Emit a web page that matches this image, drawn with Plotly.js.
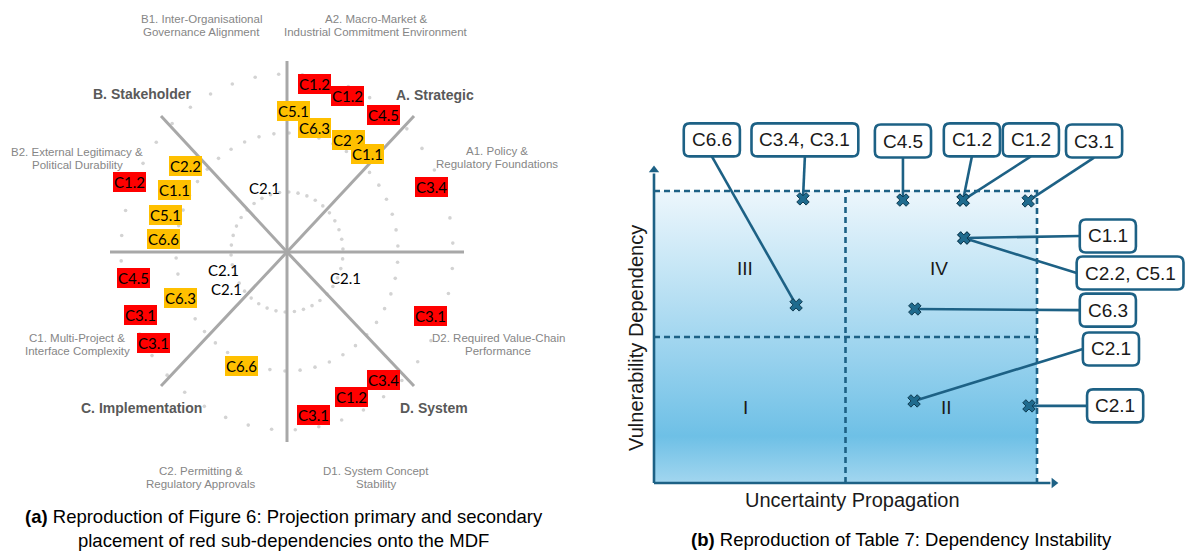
<!DOCTYPE html>
<html><head><meta charset="utf-8">
<script src="https://cdn.plot.ly/plotly-3.0.1.min.js"></script>
<style>html,body{margin:0;padding:0;background:#fff}#chart{width:1188px;height:552px}</style>
</head><body><div id="chart"></div>
<script>
// ================= DATA =================
// ---- Panel (a): MDF projection (diagram coordinates, hub = 0,0) ----
const primaryText = ['C1.2','C1.2','C4.5','C3.4','C1.2','C4.5','C3.1','C3.1','C3.1','C3.4','C1.2','C3.1'];
const primaryX    = [27, 60, 96, 144, -158, -154, -147, -134, 143, 96, 64, 26];
const primaryY    = [168, 156, 137, 65, 70, -26, -63, -91, -64, -128, -145, -163];

const secondaryText = ['C5.1','C6.3','C2.2','C1.1','C2.2','C1.1','C5.1','C6.6','C6.3','C6.6'];
const secondaryX    = [6, 27, 61, 80, -102, -113, -122, -124, -107, -46];
const secondaryY    = [141, 124, 112, 98, 86, 62, 37, 13, -46, -114];

const plainText = ['C2.1','C2.1','C2.1','C2.1'];
const plainX    = [-23, -64, -61, 58];
const plainY    = [64, -18, -37, -26];

const dimensionNames = ['A. Strategic','B. Stakeholder','C. Implementation','D. System'];
const dimensionX     = [148, -145, -146, 147];
const dimensionY     = [157, 158, -156, -156];

const subDimensionNames = [
  'A1. Policy &<br>Regulatory Foundations',
  'A2. Macro-Market &<br>Industrial Commitment Environment',
  'B1. Inter-Organisational<br>Governance Alignment',
  'B2. External Legitimacy &<br>Political Durability',
  'C1. Multi-Project &<br>Interface Complexity',
  'C2. Permitting &<br>Regulatory Approvals',
  'D1. System Concept<br>Stability',
  'D2. Required Value-Chain<br>Performance'
];
const subDimensionX = [210, 89, -86, -210, -210, -86, 89, 211];
const subDimensionY = [95, 227, 227, 94, -92, -225, -225, -92];

// ---- Panel (b): Dependency instability ----
const calloutLabels = ['C6.6','C3.4, C3.1','C4.5','C1.2','C1.2','C3.1','C1.1','C2.2, C5.1','C6.3','C2.1','C2.1'];
const uncertaintyPropagation = [0.371, 0.389, 0.650, 0.807, 0.807, 0.977, 0.809, 0.809, 0.681, 0.679, 0.979];
const vulnerabilityDependency = [0.610, 0.973, 0.969, 0.969, 0.969, 0.966, 0.839, 0.839, 0.596, 0.281, 0.264];
const calloutX = [0.151, 0.394, 0.650, 0.830, 0.984, 1.149, 1.185, 1.243, 1.185, 1.193, 1.204];
const calloutY = [1.175, 1.175, 1.171, 1.175, 1.175, 1.171, 0.846, 0.719, 0.592, 0.459, 0.264];
const calloutSide = ['bottom','bottom','bottom','bottom','bottom','bottom','left','left','left','left','left'];

const quadrantNames = ['I','II','III','IV'];
const quadrantX = [0.240, 0.765, 0.237, 0.744];
const quadrantY = [0.260, 0.260, 0.736, 0.736];

const xAxisTitle = 'Uncertainty Propagation';
const yAxisTitle = 'Vulnerability Dependency';
const captionA = '<b>(a)</b> Reproduction of Figure 6: Projection primary and secondary<br>placement of red sub-dependencies onto the MDF';
const captionB = '<b>(b)</b> Reproduction of Table 7: Dependency Instability';

// ================= BUILD =================
const SANS = 'Liberation Sans, Arial, sans-serif';
const canvas = document.createElement('canvas');
const ctx = canvas.getContext('2d');
function textW(str, font){ ctx.font = font; return ctx.measureText(str).width; }
// narrow font availability
let subFont = {family: 'Liberation Sans Narrow, Arial Narrow', size: 13.5};
if (Math.abs(textW('Industrial Commitment Environment','13px "Liberation Sans Narrow", monospace') - textW('Industrial Commitment Environment','13px monospace')) < 0.5) {
  subFont = {family: SANS, size: 11.5};
}

const traces = [];
const annotations = [];
const shapes = [];

// --- panel (a) dotted rings ---
const ringRX = [56, 111, 166], ringRY = [60, 119, 178], ringN = [38, 46, 44];
for (let k = 0; k < 3; k++) {
  const xs = [], ys = [];
  for (let i = 0; i < ringN[k]; i++) {
    const t = 2 * Math.PI * i / ringN[k] + 0.05;
    xs.push(ringRX[k] * Math.cos(t)); ys.push(ringRY[k] * Math.sin(t));
  }
  traces.push({type:'scatter', mode:'markers', x:xs, y:ys, xaxis:'x', yaxis:'y',
    marker:{size:3.6, color:'#d3d3d3'}, hoverinfo:'skip'});
}
// --- spokes ---
const spokeEnds = [[0,191],[0,-190],[-177,0],[177,0],[127,136],[-126,136],[127,-134],[-126,-134]];
const sx = [], sy = [];
spokeEnds.forEach(e => { sx.push(0, e[0], null); sy.push(0, e[1], null); });
traces.push({type:'scatter', mode:'lines', x:sx, y:sy, xaxis:'x', yaxis:'y',
  line:{color:'#a8a8a8', width:3}, hoverinfo:'skip'});

function tagAnn(txt, x, y, bg){
  return {xref:'x', yref:'y', x:x, y:y, text:txt, showarrow:false,
    font:{family:'Lato, Carlito, sans-serif', size:15, color:'#000'},
    bgcolor:bg, borderpad:1, borderwidth:0};
}
primaryText.forEach((t,i) => annotations.push(tagAnn(t, primaryX[i], primaryY[i], '#ff0000')));
secondaryText.forEach((t,i) => annotations.push(tagAnn(t, secondaryX[i], secondaryY[i], '#ffc000')));
plainText.forEach((t,i) => annotations.push(tagAnn(t, plainX[i], plainY[i], 'rgba(0,0,0,0)')));

dimensionNames.forEach((t,i) => annotations.push({xref:'x', yref:'y', x:dimensionX[i], y:dimensionY[i],
  text:'<b>'+t+'</b>', showarrow:false, font:{family:SANS, size:14, color:'#595959'}}));

subDimensionNames.forEach((t,i) => {
  const lines = t.split('<br>');
  lines.forEach((ln, j) => annotations.push({xref:'x', yref:'y', x:subDimensionX[i], y:subDimensionY[i],
    yshift: (lines.length-1)/2*13 - j*13, text:ln, showarrow:false,
    font:{family:subFont.family, size:subFont.size, color:'#868686'}}));
});

// --- panel (b) ---
const x2lo = -(654-600)/383, x2hi = (1188-654)/383;
const y2lo = -(552-483)/292, y2hi = 483/292;
const pxX = 588/(x2hi-x2lo), pxY = 552/(y2hi-y2lo);
const TEAL = '#1d6185';

traces.push({type:'scatter', mode:'lines', x:[0,1,1,0,0], y:[0,0,1,1,0], xaxis:'x2', yaxis:'y2',
  fill:'toself', line:{width:0, color:'rgba(0,0,0,0)'},
  fillgradient:{type:'vertical', colorscale:[[0,'#a2d6ef'],[0.16,'#6ec0e6'],[0.45,'#9bd3ee'],[0.75,'#c8e7f6'],[1,'#ecf6fc']]},
  hoverinfo:'skip'});
// dashed frame & quadrant dividers
traces.push({type:'scatter', mode:'lines', xaxis:'x2', yaxis:'y2',
  x:[0,1,1,null,0.5,0.5,null,0,1], y:[1,1,0,null,0,1,null,0.5,0.5],
  line:{color:TEAL, width:2.6, dash:'6px,4px'}, hoverinfo:'skip'});
// axes with arrows
traces.push({type:'scatter', mode:'lines', xaxis:'x2', yaxis:'y2',
  x:[0,0,null,0,1.035], y:[1.06,0,null,0,0], line:{color:TEAL, width:2.6}, hoverinfo:'skip'});
traces.push({type:'scatter', mode:'markers', xaxis:'x2', yaxis:'y2', x:[0,1.044], y:[1.072,0],
  marker:{symbol:['triangle-up','triangle-right'], size:9, color:TEAL}, hoverinfo:'skip'});

// callout boxes and connectors
const boxH = 33, padX = 8;
const cx = [], cy = [];
calloutLabels.forEach((lab, i) => {
  const w = textW(lab, '19px "Liberation Sans", Arial') + 2*padX;
  const h = boxH, r = 6;
  let sxp, syp;
  if (calloutSide[i] === 'bottom') { sxp = calloutX[i]; syp = calloutY[i] - (h/2)/pxY; }
  else { sxp = calloutX[i] - (w/2)/pxX; syp = calloutY[i]; }
  cx.push(sxp, uncertaintyPropagation[i], null);
  cy.push(syp, vulnerabilityDependency[i], null);
  const a = w/2, b = h/2;
  const path = `M ${-a+r},${-b} L ${a-r},${-b} Q ${a},${-b} ${a},${-b+r} L ${a},${b-r} Q ${a},${b} ${a-r},${b} L ${-a+r},${b} Q ${-a},${b} ${-a},${b-r} L ${-a},${-b+r} Q ${-a},${-b} ${-a+r},${-b} Z`;
  shapes.push({type:'path', xref:'x2', yref:'y2', xsizemode:'pixel', ysizemode:'pixel',
    xanchor:calloutX[i], yanchor:calloutY[i], path:path, fillcolor:'#ffffff',
    line:{color:TEAL, width:2.6}, layer:'above'});
  annotations.push({xref:'x2', yref:'y2', x:calloutX[i], y:calloutY[i], text:lab, showarrow:false,
    font:{family:SANS, size:19, color:'#1a1a1a'}});
});
traces.push({type:'scatter', mode:'lines', xaxis:'x2', yaxis:'y2', x:cx, y:cy,
  line:{color:TEAL, width:2.6}, hoverinfo:'skip'});
traces.push({type:'scatter', mode:'markers', xaxis:'x2', yaxis:'y2',
  x:uncertaintyPropagation, y:vulnerabilityDependency,
  marker:{symbol:'x', size:11, color:'#1f6b8e', line:{color:'#0e3a50', width:1}}, hoverinfo:'skip'});

quadrantNames.forEach((q,i) => annotations.push({xref:'x2', yref:'y2', x:quadrantX[i], y:quadrantY[i],
  text:q, showarrow:false, font:{family:SANS, size:19, color:'#1a1a1a'}}));

annotations.push({xref:'x2', yref:'y2', x:0.518, y:-0.058, text:xAxisTitle, showarrow:false,
  font:{family:SANS, size:20, color:'#1a1a1a'}});
annotations.push({xref:'x2', yref:'y2', x:-0.047, y:0.497, text:yAxisTitle, showarrow:false, textangle:-90,
  font:{family:SANS, size:20, color:'#1a1a1a'}});

annotations.push({xref:'paper', yref:'paper', x:284/1188, y:1-528/552, xanchor:'center', yanchor:'middle',
  text:captionA, showarrow:false, font:{family:SANS, size:18.5, color:'#000'}});
annotations.push({xref:'paper', yref:'paper', x:901/1188, y:1-539/552, xanchor:'center', yanchor:'middle',
  text:captionB, showarrow:false, font:{family:SANS, size:18.5, color:'#000'}});

const layout = {
  width:1188, height:552, margin:{l:0,r:0,t:0,b:0}, showlegend:false,
  paper_bgcolor:'#ffffff', plot_bgcolor:'rgba(0,0,0,0)',
  xaxis:{domain:[0,600/1188], range:[-287,313], visible:false, fixedrange:true},
  yaxis:{domain:[0,1], range:[-300,252], visible:false, fixedrange:true},
  xaxis2:{domain:[600/1188,1], range:[x2lo,x2hi], visible:false, anchor:'y2', fixedrange:true},
  yaxis2:{domain:[0,1], range:[y2lo,y2hi], visible:false, anchor:'x2', fixedrange:true},
  annotations:annotations, shapes:shapes
};
Plotly.newPlot('chart', traces, layout, {displayModeBar:false, staticPlot:true});
</script></body></html>
